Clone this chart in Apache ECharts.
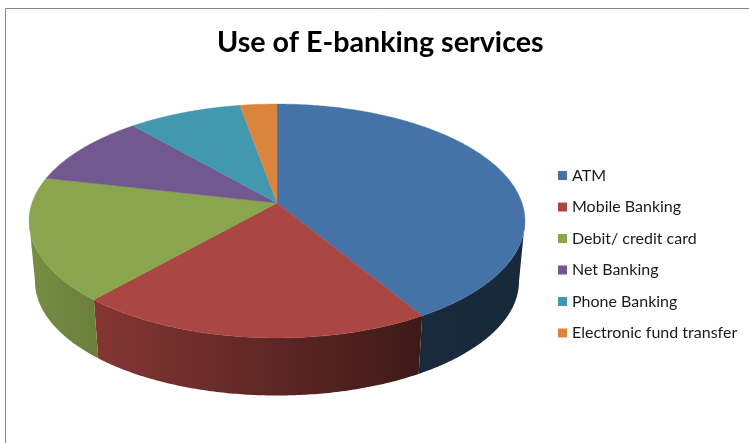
<!DOCTYPE html>
<html>
<head>
<meta charset="utf-8">
<style>
  html, body { margin: 0; padding: 0; background: #fff; }
  #chart { width: 749px; height: 443px; }
</style>
<script src="https://cdn.jsdelivr.net/npm/echarts@6/dist/echarts.min.js"></script>
</head>
<body>
<div id="chart"></div>
<script>
const categories = ['ATM', 'Mobile Banking', 'Debit/ credit card', 'Net Banking', 'Phone Banking', 'Electronic fund transfer'];
const shares = [41.4, 20.1, 17.1, 10, 8.6, 2.8];
const colors = ['#4572A7', '#AA4643', '#89A54E', '#71588F', '#4198AF', '#DB843D'];

// Perspective disc: a circle on the table seen from above, tilted toward the viewer.
const hub = { x: 277, y: 203 };
const radiusX = 245;
const radiusY = 114.2;
const tilt = 0.1538;
const drop = 60.8;       // how far the underside of the disc sits below the top face
const underScale = 0.976;

const total = shares.reduce((a, b) => a + b, 0);

// Angles (clockwise from the back of the disc) where the wall turns out of sight.
const wallStart = Math.acos(-tilt);
const wallEnd = Math.PI * 2 - wallStart;

function rimPoint(angle, under) {
  const u = Math.sin(angle);
  const v = Math.cos(angle);
  const w = 1 + tilt * v;
  const s = under ? underScale : 1;
  return [hub.x + s * radiusX * u / w, hub.y + (under ? drop : 0) - s * radiusY * v / w];
}

function arcPoints(from, to, under) {
  const steps = Math.max(2, Math.ceil((to - from) / 0.01));
  const pts = [];
  for (let i = 0; i <= steps; i++) {
    pts.push(rimPoint(from + (to - from) * i / steps, under));
  }
  return pts;
}

function mix(hex, factor) {
  const n = parseInt(hex.slice(1), 16);
  const c = [(n >> 16) & 255, (n >> 8) & 255, n & 255].map(v => Math.round(v * factor));
  return 'rgb(' + c.join(',') + ')';
}

// The wall gets darker from left to right, as if lit from the left.
function wallShade(x) {
  const t = (x - 29) / 496;
  return 0.86 - 0.5 * Math.min(1, t / 0.8);
}

function sliceRenderer(index) {
  const before = shares.slice(0, index).reduce((a, b) => a + b, 0);
  const from = before / total * Math.PI * 2;
  const to = (before + shares[index]) / total * Math.PI * 2;
  const color = colors[index];
  return function () {
    const top = arcPoints(from, to, false);
    const children = [{
      type: 'polygon',
      z2: 10,
      shape: { points: [[hub.x, hub.y]].concat(top) },
      style: { fill: color, stroke: color, lineWidth: 0.4 }
    }];
    const wallFrom = Math.max(from, wallStart);
    const wallTo = Math.min(to, wallEnd);
    if (wallTo > wallFrom) {
      const upper = arcPoints(wallFrom, wallTo, false);
      const lower = arcPoints(wallFrom, wallTo, true);
      const xs = upper.map(p => p[0]);
      const xMin = Math.min.apply(null, xs);
      const xMax = Math.max.apply(null, xs);
      children.push({
        type: 'polygon',
        z2: 1,
        shape: { points: upper.concat(lower.slice().reverse()) },
        style: {
          fill: new echarts.graphic.LinearGradient(xMin, 0, xMax, 0, [
            { offset: 0, color: mix(color, wallShade(xMin)) },
            { offset: 1, color: mix(color, wallShade(xMax)) }
          ], true)
        }
      });
    }
    return { type: 'group', children };
  };
}

const chart = echarts.init(document.getElementById('chart'), null, { renderer: 'canvas' });

chart.setOption({
  animation: false,
  backgroundColor: '#ffffff',
  title: {
    text: 'Use of E-banking services',
    left: 212,
    top: 23,
    textStyle: { fontFamily: 'Lato', fontWeight: 700, fontSize: 28.7, color: '#000000' }
  },
  legend: {
    orient: 'vertical',
    left: 553,
    top: 161.5,
    icon: 'rect',
    itemWidth: 9,
    itemHeight: 9,
    itemGap: 13.5,
    data: categories,
    selectedMode: false,
    textStyle: { fontFamily: 'Lato', fontSize: 16, color: '#1a1a1a', lineHeight: 18 }
  },
  graphic: [
    {
      type: 'polyline',
      silent: true,
      shape: { points: [[5.5, 443], [5.5, 8.5], [749, 8.5]] },
      style: { fill: null, stroke: '#868686', lineWidth: 1 }
    }
  ],
  series: categories.map((name, i) => ({
    type: 'custom',
    name,
    coordinateSystem: 'none',
    silent: true,
    itemStyle: { color: colors[i] },
    data: [[shares[i]]],
    renderItem: sliceRenderer(i)
  }))
});
</script>
</body>
</html>
